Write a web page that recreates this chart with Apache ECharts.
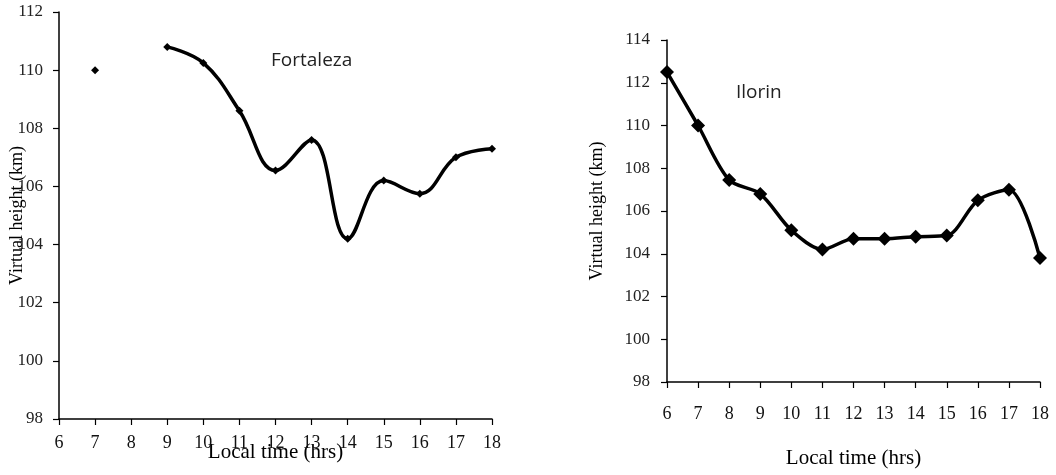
<!DOCTYPE html>
<html><head><meta charset="utf-8">
<script src="https://cdn.jsdelivr.net/npm/echarts@6/dist/echarts.min.js"></script>
<style>html,body{margin:0;padding:0;background:#fff}#c{width:1056px;height:475px}</style>
</head><body><div id="c"></div>
<script>
const hours = [6,7,8,9,10,11,12,13,14,15,16,17,18];
const fortaleza = [null,110.0,null,110.8,110.25,108.6,106.55,107.6,104.2,106.2,105.75,107.0,107.3];
const ilorin = [112.5,110.0,107.45,106.8,105.1,104.2,104.7,104.7,104.8,104.85,106.5,107.0,103.8];
const leftYTicks = [98,100,102,104,106,108,110,112];
const rightYTicks = [98,100,102,104,106,108,110,112,114];
const xName = 'Local time (hrs)';
const yName = 'Virtual height (km)';

const serif = 'Liberation Serif';
function xAxis(gi, gap, labelMargin){
  return {gridIndex:gi,type:'value',min:6,max:18,interval:1,
    name:xName,nameLocation:'middle',nameGap:gap,nameMoveOverlap:false,
    nameTextStyle:{fontFamily:serif,fontSize:21,color:'#000'},
    axisLine:{lineStyle:{color:'#000',width:1.5}},
    axisTick:{show:true,length:6,lineStyle:{color:'#000',width:1.2}},
    axisLabel:{fontFamily:serif,fontSize:18,color:'#111',margin:labelMargin,showMinLabel:true,showMaxLabel:true},
    splitLine:{show:false}};
}
function yAxis(gi, ticks, gap, labelMargin){
  return {gridIndex:gi,type:'value',min:ticks[0],max:ticks[ticks.length-1],interval:2,
    name:yName,nameLocation:'middle',nameGap:gap,nameRotate:90,nameMoveOverlap:false,
    nameTextStyle:{fontFamily:serif,fontSize:18,color:'#000'},
    axisLine:{show:true,lineStyle:{color:'#000',width:1.5}},
    axisTick:{show:true,length:6,lineStyle:{color:'#000',width:1.2}},
    axisLabel:{fontFamily:serif,fontSize:17,color:'#222',margin:labelMargin,showMinLabel:true,showMaxLabel:true},
    splitLine:{show:false}};
}
const chart = echarts.init(document.getElementById('c'),null,{renderer:'canvas'});
chart.setOption({
  animation:false,
  backgroundColor:'#fff',
  grid:[
    {left:59,right:564,top:12,bottom:56,containLabel:false,outerBoundsMode:'none'},
    {left:667,right:16,top:40,bottom:93,containLabel:false,outerBoundsMode:'none'}
  ],
  xAxis:[xAxis(0,23,15),xAxis(1,66,23)],
  yAxis:[yAxis(0,leftYTicks,33,16),yAxis(1,rightYTicks,61,17)],
  graphic:[
    {type:'text',left:271,top:51,style:{text:'Fortaleza',font:'19px "Open Sans"',fill:'#222'}},
    {type:'text',left:736,top:83,style:{text:'Ilorin',font:'19px "Open Sans"',fill:'#222'}}
  ],
  series:[
    {type:'line',xAxisIndex:0,yAxisIndex:0,smooth:0.4,connectNulls:false,
     data:hours.map((h,i)=>[h,fortaleza[i]]),
     symbol:'diamond',symbolSize:8,showSymbol:true,
     itemStyle:{color:'#000'},lineStyle:{color:'#000',width:3.5}},
    {type:'line',xAxisIndex:1,yAxisIndex:1,smooth:0.3,
     data:hours.map((h,i)=>[h,ilorin[i]]),
     symbol:'diamond',symbolSize:14,showSymbol:true,
     itemStyle:{color:'#000'},lineStyle:{color:'#000',width:3.5}}
  ]
});
</script></body></html>
